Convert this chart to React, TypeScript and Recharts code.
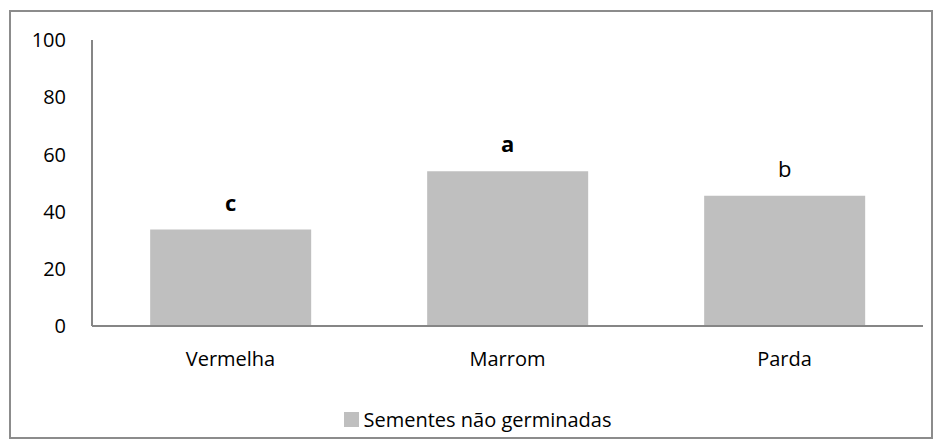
import { BarChart, Bar, XAxis, YAxis, Legend, LabelList } from "recharts";

const cores = ["Vermelha", "Marrom", "Parda"];
const naoGerminadas = [33.7, 54.1, 45.5];
const letras = ["c", "a", "b"];
const yTicks = [0, 20, 40, 60, 80, 100];

const data = cores.map((cor, i) => ({ cor, valor: naoGerminadas[i], letra: letras[i] }));

const FONT = "'Open Sans', sans-serif";
const boldLetters = ["a", "c"];

function LetterLabel(props: any) {
  const { x, y, width, value } = props;
  return (
    <text
      x={x + width / 2}
      y={y - 19}
      textAnchor="middle"
      fontFamily={FONT}
      fontSize={22}
      fontWeight={boldLetters.includes(value) ? 700 : 400}
      fill="#000"
    >
      {value}
    </text>
  );
}

function LegendContent() {
  return (
    <div style={{ display: "flex", justifyContent: "center", alignItems: "center", fontFamily: FONT, fontSize: 20, color: "#000" }}>
      <span style={{ width: 15, height: 15, background: "#bfbfbf", marginRight: 5, display: "inline-block" }} />
      Sementes não germinadas
    </div>
  );
}

export default function App() {
  return (
    <div style={{ position: "absolute", left: 0, top: 0, width: 941, height: 448, background: "#fff" }}>
      <div
        style={{
          position: "absolute",
          left: 9,
          top: 10,
          width: 920,
          height: 425,
          border: "2px solid #8c8c8c",
        }}
      />
      <BarChart
        width={941}
        height={448}
        data={data}
        margin={{ top: 40, right: 18, bottom: 0, left: 32 }}
        barCategoryGap="21%"
      >
        <XAxis
          dataKey="cor"
          axisLine={{ stroke: "#868686", strokeWidth: 2 }}
          tickLine={false}
          tickSize={0}
          tickMargin={26}
          height={80}
          tick={{ fontSize: 20, fill: "#000", fontFamily: FONT }}
        />
        <YAxis
          domain={[0, 100]}
          ticks={yTicks}
          width={60}
          axisLine={{ stroke: "#868686", strokeWidth: 2 }}
          tickLine={false}
          tickSize={0}
          tickMargin={26}
          tick={{ fontSize: 20, fill: "#000", fontFamily: FONT }}
        />
        <Legend verticalAlign="bottom" height={42} content={<LegendContent />} />
        <Bar dataKey="valor" fill="#bfbfbf" isAnimationActive={false}>
          <LabelList dataKey="letra" content={<LetterLabel />} />
        </Bar>
      </BarChart>
    </div>
  );
}
